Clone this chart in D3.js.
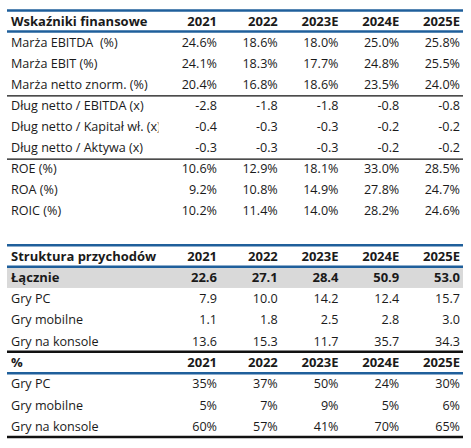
<!DOCTYPE html>
<html><head><meta charset="utf-8">
<script src="https://cdn.jsdelivr.net/npm/d3@7"></script>
<style>
html,body{margin:0;padding:0;background:#fff;}
svg{display:block;}
text{font-family:"Open Sans",sans-serif;fill:#1a1a1a;white-space:pre;}
</style></head><body>
<svg id="c" width="471" height="448"></svg>
<script>
const years = ["2021","2022","2023E","2024E","2025E"];

// Table 1: Wskaźniki finansowe
const ratioTitle = "Wskaźniki finansowe";
const ratioLabels = ["Marża EBITDA  (%)","Marża EBIT (%)","Marża netto znorm. (%)",
  "Dług netto / EBITDA (x)","Dług netto / Kapitał wł. (x)","Dług netto / Aktywa (x)",
  "ROE (%)","ROA (%)","ROIC (%)"];
const ratioIsPct = [true,true,true,false,false,false,true,true,true];
const ratioGroupEnds = [2,5]; // rows after which a separator is drawn
const v2021 = [24.6,24.1,20.4,-2.8,-0.4,-0.3,10.6,9.2,10.2];
const v2022 = [18.6,18.3,16.8,-1.8,-0.3,-0.3,12.9,10.8,11.4];
const v2023E = [18.0,17.7,18.6,-1.8,-0.3,-0.3,18.1,14.9,14.0];
const v2024E = [25.0,24.8,23.5,-0.8,-0.2,-0.2,33.0,27.8,28.2];
const v2025E = [25.8,25.5,24.0,-0.8,-0.2,-0.2,28.5,24.7,24.6];

// Table 2: Struktura przychodów
const revTitle = "Struktura przychodów";
const totalLabel = "Łącznie";
const totalValues = [22.6,27.1,28.4,50.9,53.0];
const segLabels = ["Gry PC","Gry mobilne","Gry na konsole"];
const gryPC = [7.9,10.0,14.2,12.4,15.7];
const gryMobilne = [1.1,1.8,2.5,2.8,3.0];
const gryKonsole = [13.6,15.3,11.7,35.7,34.3];
const shareTitle = "%";
const sharePC = [35,37,50,24,30];
const shareMobilne = [5,7,9,5,6];
const shareKonsole = [60,57,41,70,65];

const BLUE = "#1f5f9b";
const svg = d3.select("#c");
const x = d3.scalePoint().domain(years).range([217, 460]);
const xL = 7, xR = 463, labelX = 11;
const loc = d3.formatLocale({decimal:".", thousands:",", grouping:[3], currency:["",""], minus:"-"});
const fmt1 = loc.format(".1f");
const fmtPct1 = v => fmt1(v) + "%";
const fmtPct0 = v => loc.format("d")(v) + "%";

svg.append("defs").append("clipPath").attr("id","lab")
  .append("rect").attr("x",0).attr("y",0).attr("width",158.5).attr("height",448);

function hline(y, color, w){
  svg.append("line").attr("x1",xL).attr("x2",xR).attr("y1",y).attr("y2",y)
    .attr("stroke",color).attr("stroke-width",w);
}
function row(y, label, vals, fmt, bold){
  const g = svg.append("g");
  g.append("text").attr("x",labelX).attr("y",y).attr("dy","0.35em")
    .attr("clip-path","url(#lab)")
    .style("font-size",bold?"13px":"12.6px").style("font-weight",bold?700:400).text(label);
  g.selectAll("text.v").data(vals).join("text").attr("class","v")
    .attr("x",(d,i)=>x(years[i])).attr("y",y).attr("dy","0.35em")
    .attr("text-anchor","end")
    .style("font-size", bold?"13px":"12.6px").style("font-weight",bold?700:400)
    .text(d=>typeof d==="string"?d:fmt(d));
}

// ---- Table 1
const y1 = d3.scaleLinear().domain([0,9]).range([21, 211]);
const ratioCols = [v2021,v2022,v2023E,v2024E,v2025E];
hline(y1(-0.5), BLUE, 2.5);
row(y1(0), ratioTitle, years, null, true);
hline(y1(0.5), BLUE, 2.5);
ratioLabels.forEach((lab,r)=>{
  const vals = ratioCols.map(c=>c[r]);
  row(y1(r+1), lab, vals, ratioIsPct[r]?fmtPct1:fmt1, false);
});
ratioGroupEnds.forEach(e=>hline(y1(e+1.5)+1, "#111", 1.2));

// ---- Table 2
const y2 = d3.scaleLinear().domain([0,8]).range([256, 426.4]);
hline(y2(-0.5), BLUE, 2.5);
svg.append("rect").attr("x",xL).attr("width",xR-xL)
  .attr("y",y2(0.5)).attr("height",y2(1.5)-y2(0.5)).attr("fill","#d9d9d9");
row(y2(0), revTitle, years, null, true);
hline(y2(0.5), BLUE, 2.5);
row(y2(1), totalLabel, totalValues, fmt1, true);
[gryPC,gryMobilne,gryKonsole].forEach((s,i)=>row(y2(2+i), segLabels[i], s, fmt1, false));
hline(y2(4.5), "#111", 2.5);
row(y2(5), shareTitle, years, null, true);
hline(y2(5.5), BLUE, 2.5);
[sharePC,shareMobilne,shareKonsole].forEach((s,i)=>row(y2(6+i), segLabels[i], s, fmtPct0, false));
hline(y2(8.5), "#111", 2.5);
</script></body></html>
